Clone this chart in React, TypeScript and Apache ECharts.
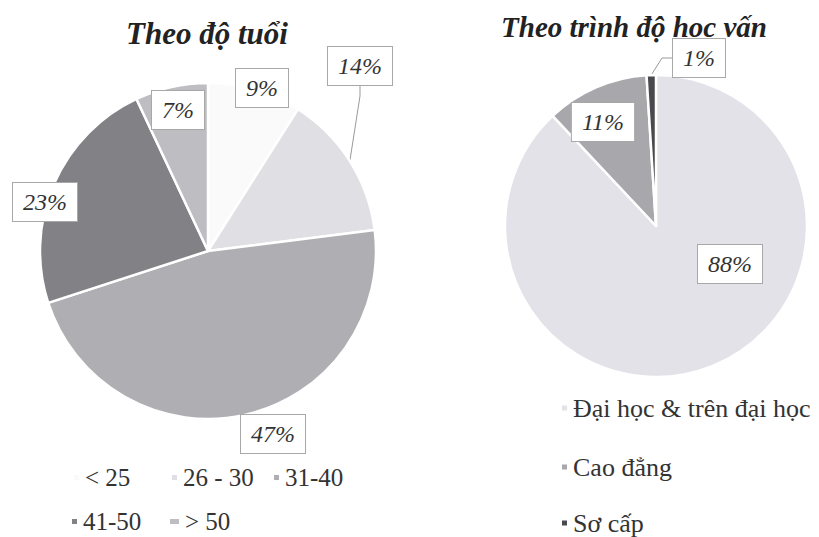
import React, { useEffect, useRef } from "react";
import * as echarts from "echarts";

const ageCategories = ["< 25", "26 - 30", "31-40", "41-50", "> 50"];
const ageValues = [9, 14, 47, 23, 7];
const eduCategories = ["Đại học & trên đại học", "Cao đẳng", "Sơ cấp"];
const eduValues = [88, 11, 1];

const ageColors = ["#fafafa", "#dfdfe4", "#afafb3", "#828286", "#bdbdc2"];
const eduColors = ["#e2e2e8", "#a8a8ac", "#4a4a4e"];

// label box centres (layout only)
const ageLabelPos = [
  [262, 88],
  [360, 66],
  [273, 434],
  [45, 202],
  [178, 110],
];
const eduLabelPos = [
  [730, 264],
  [603, 122],
  [699, 58],
];
const ageOutside = [false, true, false, false, false];
const eduOutside = [false, false, true];

// legend item placement (layout only)
const ageLegendPos = [
  [72, 465],
  [170, 465],
  [272, 465],
  [70, 509],
  [168, 509],
];
const eduLegendPos = [
  [560, 395],
  [560, 454],
  [560, 510],
];

const serif = "Liberation Serif";

const labelStyle = {
  fontFamily: serif,
  fontStyle: "italic",
  fontSize: 24,
  color: "#333",
  backgroundColor: "#fff",
  borderColor: "#a8a8a8",
  borderWidth: 1,
  padding: [7, 10, 7, 10],
  formatter: "{c}%",
};

export default function App() {
  const ref = useRef<HTMLDivElement>(null);
  useEffect(() => {
    const chart = echarts.init(ref.current!, null, { renderer: "svg" });
    const mkData = (cats: string[], vals: number[], colors: string[], outside: boolean[]) =>
      cats.map((name, i) => ({
        name,
        value: vals[i],
        itemStyle: { color: colors[i] },
        label: { position: outside[i] ? "outside" : "inside" },
        labelLine: { show: outside[i] },
      }));
    const legends: any[] = [];
    ageCategories.forEach((name, i) => {
      legends.push({
        data: [name],
        left: ageLegendPos[i][0],
        top: ageLegendPos[i][1],
        padding: 0,
        icon: "rect",
        itemWidth: i === 4 ? 11 : 7,
        itemHeight: 7,
        textStyle: { fontFamily: serif, fontSize: 25, color: "#333" },
        selectedMode: false,
      });
    });
    eduCategories.forEach((name, i) => {
      legends.push({
        data: [name],
        left: eduLegendPos[i][0],
        top: eduLegendPos[i][1],
        padding: 0,
        icon: "rect",
        itemWidth: 7,
        itemHeight: 7,
        textStyle: { fontFamily: serif, fontSize: 26, color: "#333" },
        selectedMode: false,
      });
    });
    chart.setOption({
      animation: false,
      backgroundColor: "#fff",
      textStyle: { fontFamily: serif },
      legend: legends,
      graphic: [
        {
          type: "text",
          x: 207,
          y: 33,
          style: {
            text: "Theo độ tuổi",
            font: `italic bold 31px ${serif}`,
            fill: "#222",
            textAlign: "center",
            textVerticalAlign: "middle",
          },
        },
        {
          type: "text",
          x: 634,
          y: 27,
          style: {
            text: "Theo trình độ học vấn",
            font: `italic bold 29px ${serif}`,
            fill: "#222",
            textAlign: "center",
            textVerticalAlign: "middle",
          },
        },
      ],
      series: [
        {
          type: "pie",
          center: [208, 251],
          radius: 168,
          startAngle: 90,
          clockwise: true,
          avoidLabelOverlap: false,
          itemStyle: { borderColor: "#fff", borderWidth: 2.5 },
          label: labelStyle,
          labelLine: { lineStyle: { color: "#999", width: 1 }, length: 10, length2: 10 },
          labelLayout: (p: any) => ({
            x: ageLabelPos[p.dataIndex][0],
            y: ageLabelPos[p.dataIndex][1],
            align: "center",
            verticalAlign: "middle",
          }),
          emphasis: { disabled: true },
          data: mkData(ageCategories, ageValues, ageColors, ageOutside),
        },
        {
          type: "pie",
          center: [656, 226],
          radius: 151,
          startAngle: 90,
          clockwise: true,
          avoidLabelOverlap: false,
          itemStyle: { borderColor: "#fff", borderWidth: 2.5 },
          label: labelStyle,
          labelLine: { lineStyle: { color: "#999", width: 1 }, length: 10, length2: 10 },
          labelLayout: (p: any) => ({
            x: eduLabelPos[p.dataIndex][0],
            y: eduLabelPos[p.dataIndex][1],
            align: "center",
            verticalAlign: "middle",
          }),
          emphasis: { disabled: true },
          data: mkData(eduCategories, eduValues, eduColors, eduOutside),
        },
      ],
    });
    return () => chart.dispose();
  }, []);
  return (
    <div
      ref={ref}
      style={{ position: "fixed", left: 0, top: 0, width: 819, height: 537, background: "#fff" }}
    />
  );
}
